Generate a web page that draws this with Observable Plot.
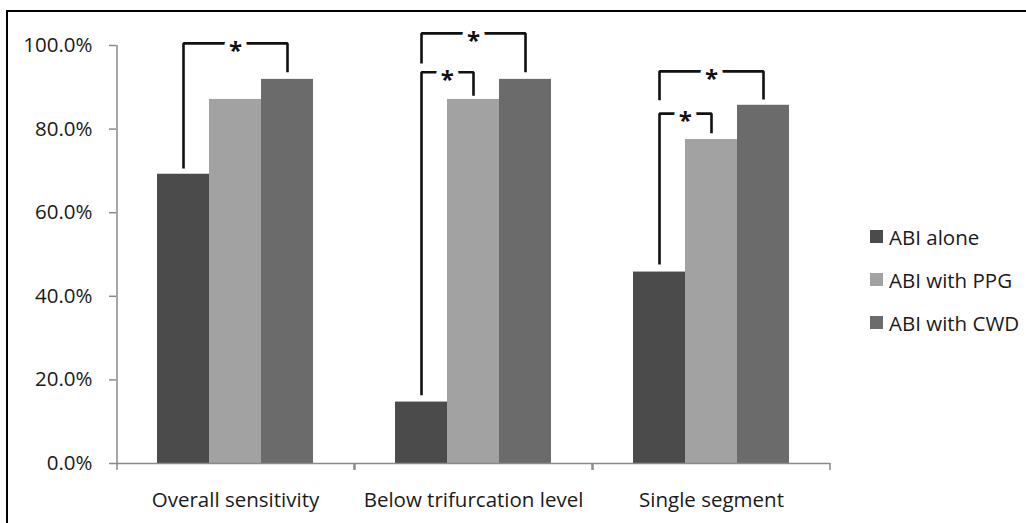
<!DOCTYPE html>
<html>
<head>
<meta charset="utf-8">
<script src="https://cdn.jsdelivr.net/npm/d3@7"></script>
<script src="https://cdn.jsdelivr.net/npm/@observablehq/plot@0.6"></script>
<style>
  html, body { margin: 0; padding: 0; background: #fff; overflow: hidden; }
  #wrap { position: relative; width: 1026px; height: 523px; font-family: "Open Sans", sans-serif; }
  #border { position: absolute; left: 6px; top: 10px; width: 1100px; height: 600px; border: 2.5px solid #000; pointer-events: none; }
  #legend { position: absolute; left: 870px; top: 215px; font-size: 20.5px; color: #1a1a1a; }
  #legend .row { display: flex; align-items: center; height: 43px; }
  #legend .sw { width: 13px; height: 13px; margin-right: 6px; }
</style>
</head>
<body>
<div id="wrap">
  <div id="chart"></div>
  <div id="legend"></div>
  <div id="border"></div>
</div>
<script>
// ---- data ----
const categories = ["Overall sensitivity", "Below trifurcation level", "Single segment"];
const series = ["ABI alone", "ABI with PPG", "ABI with CWD"];
const abiAlone = [0.692, 0.147, 0.458];
const abiWithPPG = [0.871, 0.871, 0.775];
const abiWithCWD = [0.919, 0.919, 0.857];
const colors = ["#4b4b4b", "#a2a2a2", "#6b6b6b"];
const yTicks = [0, 0.2, 0.4, 0.6, 0.8, 1.0];

// significance brackets
const bracketCategory = ["Overall sensitivity", "Below trifurcation level", "Below trifurcation level", "Single segment", "Single segment"];
const bracketFrom = ["ABI alone", "ABI alone", "ABI alone", "ABI alone", "ABI alone"];
const bracketTo = ["ABI with CWD", "ABI with CWD", "ABI with PPG", "ABI with CWD", "ABI with PPG"];
const bracketTop = [1.005, 1.029, 0.936, 0.938, 0.837];
const bracketLeftEnd = [0.706, 0.957, 0.163, 0.869, 0.476];
const bracketRightEnd = [0.936, 0.936, 0.880, 0.871, 0.790];

// ---- layout ----
const W = 1026, H = 523, ML = 115, MR = 196, MT = 45, MB = 60;
const xPadOuter = 0.763;
const cellW = (W - ML - MR) / categories.length;
const barW = cellW / (series.length + 2 * xPadOuter);
const edgeOffset = xPadOuter * barW + barW / 2;
const pxPerUnit = H - MT - MB;
const tickLen = 7 / pxPerUnit;

const valuesBySeries = [abiAlone, abiWithPPG, abiWithCWD];
const rows = [];
categories.forEach((c, i) => series.forEach((s, j) => rows.push({category: c, series: s, value: valuesBySeries[j][i]})));

const bracketPts = [];
const brackets = bracketCategory.map((c, i) => ({id: i, category: c, from: bracketFrom[i], to: bracketTo[i], top: bracketTop[i]}));
brackets.forEach((b, i) => {
  bracketPts.push({id: i, category: b.category, x: b.from, y: bracketLeftEnd[i]});
  bracketPts.push({id: i, category: b.category, x: b.from, y: b.top});
  bracketPts.push({id: i, category: b.category, x: b.to, y: b.top});
  bracketPts.push({id: i, category: b.category, x: b.to, y: bracketRightEnd[i]});
});
const wideBrackets = brackets.filter(b => b.to === "ABI with CWD");
const narrowBrackets = brackets.filter(b => b.to === "ABI with PPG");

const axisColor = "#8a8a8a";
const textColor = "#1a1a1a";

const chart = Plot.plot({
  width: W, height: H,
  marginLeft: ML, marginRight: MR, marginTop: MT, marginBottom: MB,
  style: {fontFamily: "'Open Sans', sans-serif", fontSize: "20.5px", color: textColor, background: "transparent", overflow: "visible"},
  fx: {domain: categories, padding: 0},
  x: {domain: series, paddingInner: 0, paddingOuter: xPadOuter, axis: null},
  y: {domain: [0, 1]},
  color: {domain: series, range: colors},
  marks: [
    Plot.barY(rows, {fx: "category", x: "series", y: "value", fill: "series"}),
    Plot.ruleY([0], {stroke: axisColor, strokeWidth: 1.5}),
    // category boundary ticks
    Plot.ruleX(categories, {fx: d => d, x: () => series[0], dx: -edgeOffset, y1: -tickLen, y2: 0, stroke: axisColor, strokeWidth: 1.5}),
    Plot.ruleX(categories, {fx: d => d, x: () => series[series.length - 1], dx: edgeOffset, y1: -tickLen, y2: 0, stroke: axisColor, strokeWidth: 1.5}),
    // y axis line
    Plot.ruleX([categories[0]], {fx: d => d, x: () => series[0], dx: -edgeOffset, y1: 0, y2: 1, stroke: axisColor, strokeWidth: 1.5}),
    Plot.axisY({ticks: yTicks, tickFormat: d3.format(".1%"), tickSize: 7, tickPadding: 17, stroke: axisColor, strokeWidth: 1.5, fill: textColor, label: null, fontSize: 20.5}),
    Plot.axisFx({anchor: "bottom", tickSize: 0, tickPadding: 29, label: null, fill: textColor, fontSize: 20.5}),
    // brackets
    Plot.line(bracketPts, {fx: "category", x: "x", y: "y", z: "id", stroke: "#111", strokeWidth: 2.6, strokeLinejoin: "miter", strokeLinecap: "butt"}),
    Plot.text(wideBrackets, {fx: "category", x: () => series[1], y: "top", text: () => "*", fontSize: 24, fontWeight: "bold", fill: "#111", stroke: "white", strokeWidth: 11, paintOrder: "stroke", dy: 8}),
    Plot.text(narrowBrackets, {fx: "category", x: () => series[1], y: "top", text: () => "*", dx: -barW / 2, fontSize: 24, fontWeight: "bold", fill: "#111", stroke: "white", strokeWidth: 11, paintOrder: "stroke", dy: 8})
  ]
});
document.getElementById("chart").appendChild(chart);

// legend
const legend = document.getElementById("legend");
series.forEach((s, i) => {
  const row = document.createElement("div");
  row.className = "row";
  const sw = document.createElement("div");
  sw.className = "sw";
  sw.style.background = colors[i];
  const label = document.createElement("span");
  label.textContent = s;
  row.appendChild(sw);
  row.appendChild(label);
  legend.appendChild(row);
});
</script>
</body>
</html>
